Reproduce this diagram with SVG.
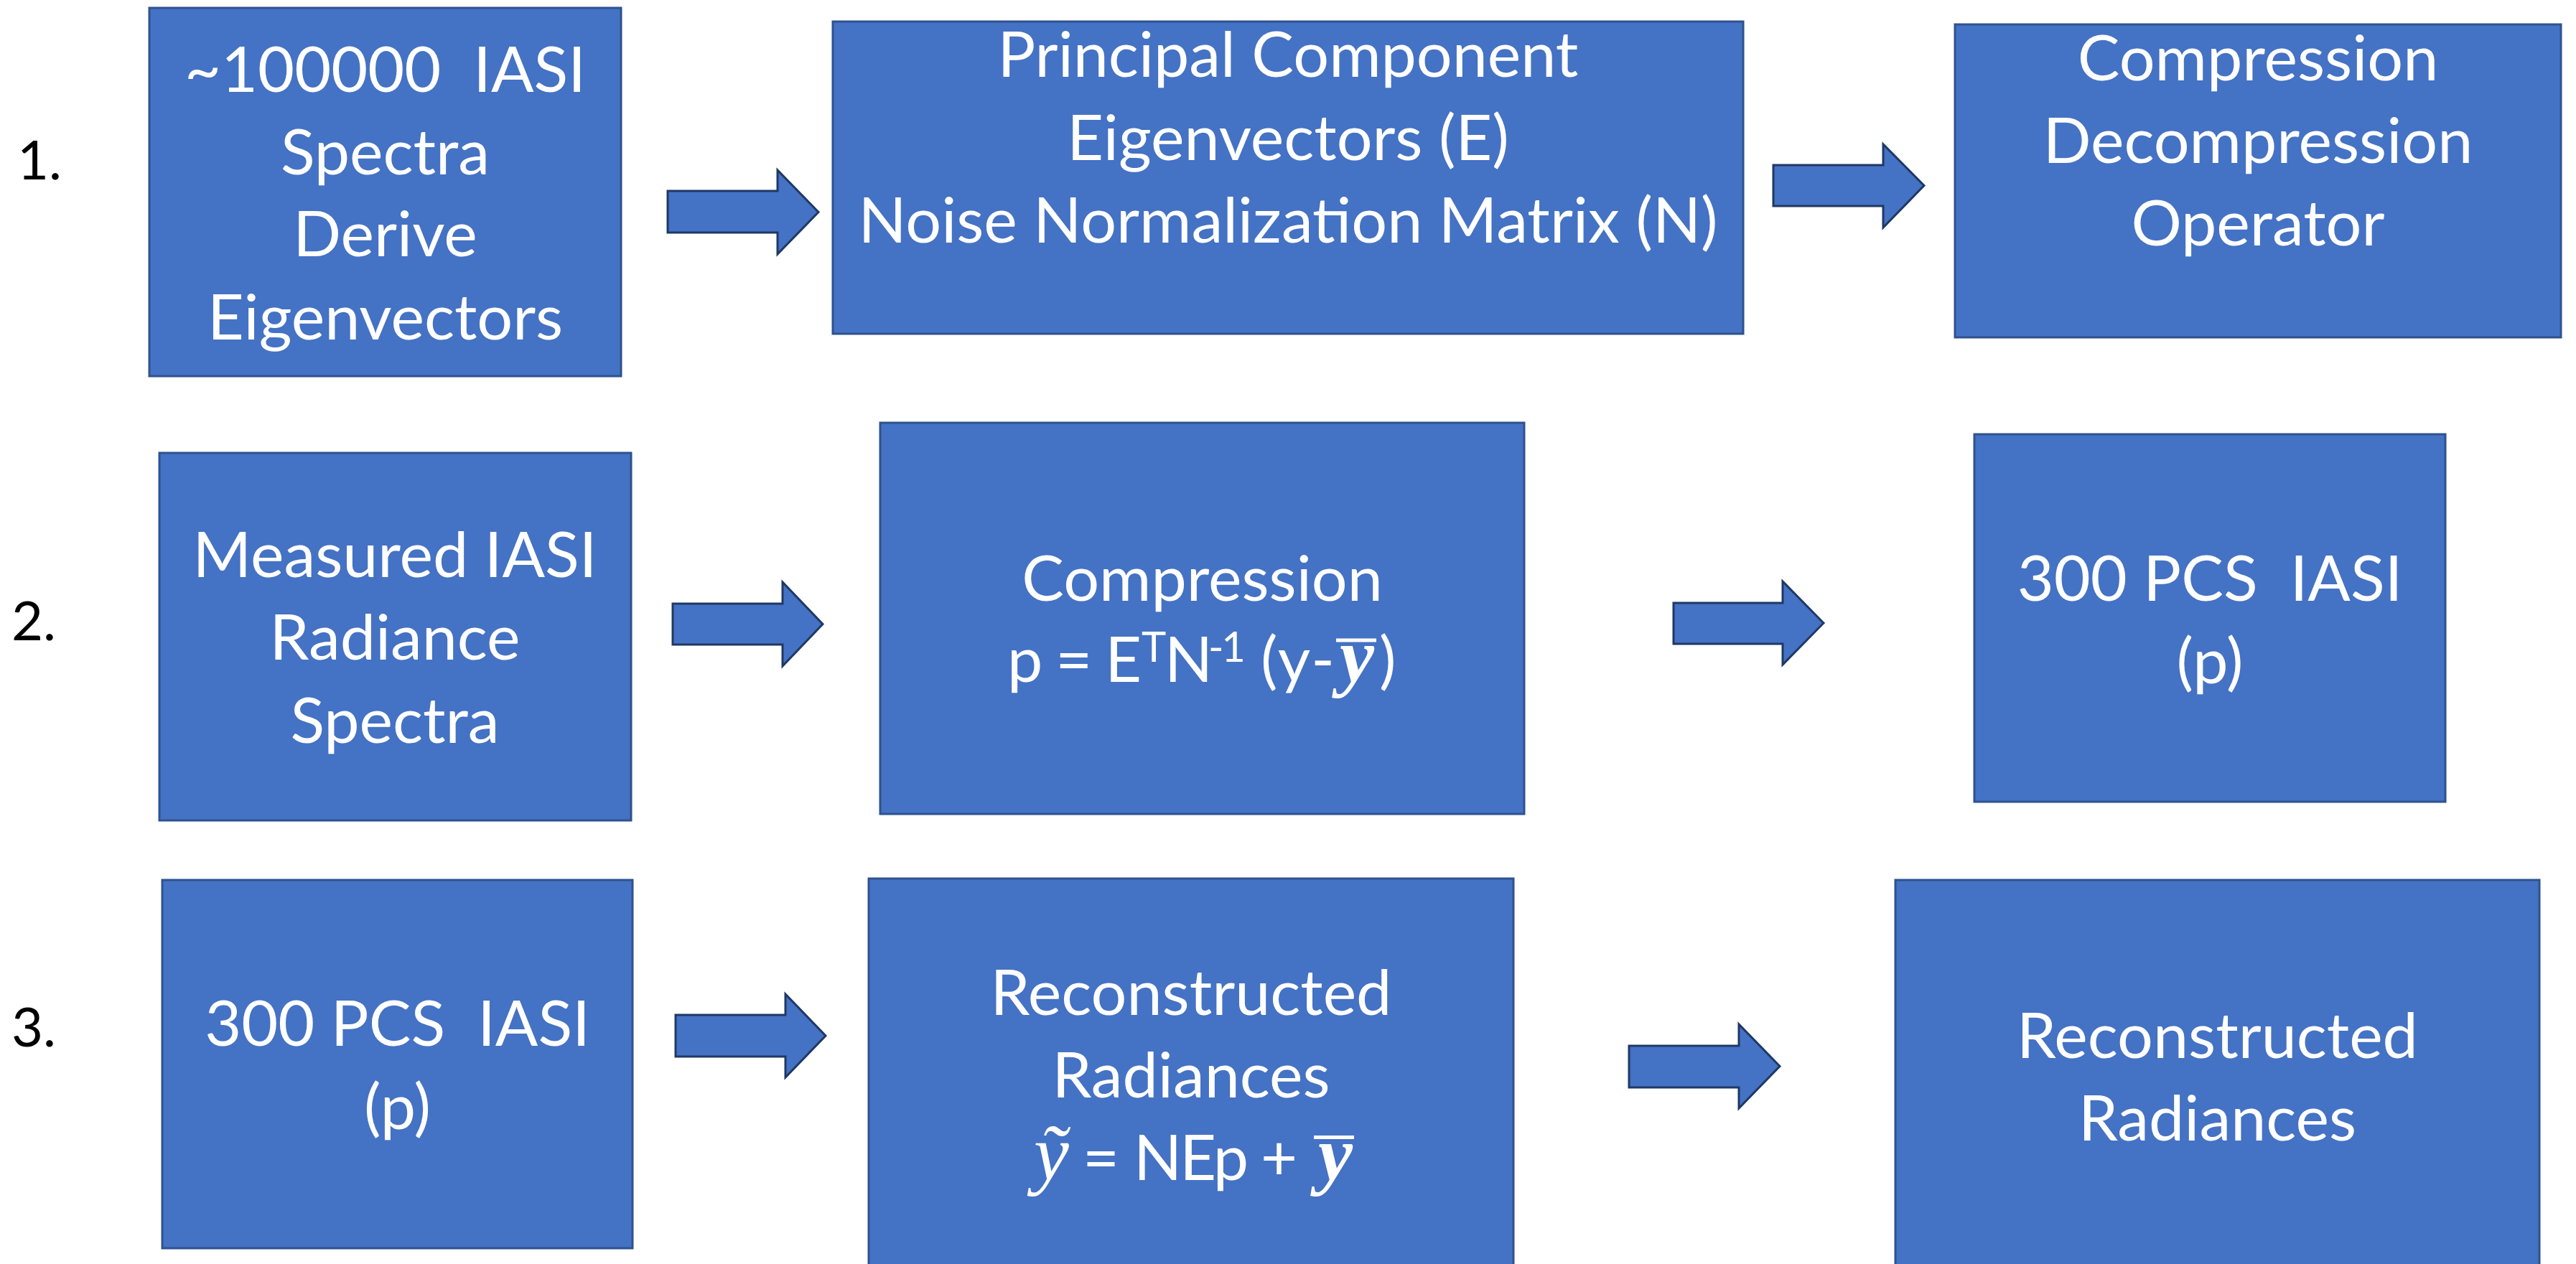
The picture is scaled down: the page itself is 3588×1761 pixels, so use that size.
<svg xmlns="http://www.w3.org/2000/svg" width="3588" height="1761" viewBox="0 0 3588 1761">
<style>
.box{fill:#4472C4;stroke:#2F528F;stroke-width:3}
.arr{fill:#4472C4;stroke:#1F3864;stroke-width:3;stroke-linejoin:miter}
.t{font-family:Lato,"Liberation Sans",sans-serif;font-size:88px;fill:#fff;text-anchor:middle;white-space:pre}
.f{font-family:Lato,"Liberation Sans",sans-serif;font-size:88px;fill:#fff;white-space:pre}
.sup{font-size:58px}
.m{font-family:"Liberation Serif","DejaVu Serif",serif;font-style:italic;font-size:110px;fill:#fff}
.mb{font-family:"Liberation Serif","DejaVu Serif",serif;font-style:italic;font-weight:bold;font-size:108px;fill:#fff}
.lbl{font-family:Lato,"Liberation Sans",sans-serif;font-size:76px;fill:#000}
.bar{fill:#fff}
</style>
<rect width="3588" height="1761" fill="#fff"/>

<g id="labels">
<text class="lbl" x="24" y="250">1.</text>
<text class="lbl" x="16" y="892">2.</text>
<text class="lbl" x="16" y="1458">3.</text>
</g>

<g id="connectors">
<path class="arr" d="M930,266 H1083 V237 L1140,295.5 L1083,354 V324 H930 Z"/>
<path class="arr" d="M2470,230 H2623 V201 L2680,258.5 L2623,317 V287 H2470 Z"/>
<path class="arr" d="M937,841 H1090 V811 L1146,869.5 L1090,928 V898 H937 Z"/>
<path class="arr" d="M2331,840 H2483 V810 L2540,868 L2483,926 V897 H2331 Z"/>
<path class="arr" d="M941,1414 H1094 V1385 L1150,1443 L1094,1501 V1472 H941 Z"/>
<path class="arr" d="M2269,1457 H2422 V1427 L2479,1485.5 L2422,1544 V1515 H2269 Z"/>
</g>

<g id="n1">
<rect class="box" x="208" y="11" width="657" height="513"/>
<text class="t"><tspan x="536.5" y="127.5">~100000  IASI</tspan><tspan x="536.5" y="243">Spectra</tspan><tspan x="536.5" y="357">Derive</tspan><tspan x="536.5" y="473">Eigenvectors</tspan></text>
</g>

<g id="n2">
<rect class="box" x="1160" y="30" width="1268" height="435"/>
<text class="t"><tspan x="1794" y="107">Principal Component</tspan><tspan x="1794" y="223">Eigenvectors (E)</tspan><tspan x="1794" y="338">Noise Normalization Matrix (N)</tspan></text>
</g>

<g id="n3">
<rect class="box" x="2723" y="34" width="844" height="436"/>
<text class="t"><tspan x="3145" y="112">Compression</tspan><tspan x="3145" y="227">Decompression</tspan><tspan x="3145" y="342">Operator</tspan></text>
</g>

<g id="n4">
<rect class="box" x="222" y="631" width="657" height="512"/>
<text class="t"><tspan x="550" y="804">Measured IASI</tspan><tspan x="550" y="919">Radiance</tspan><tspan x="550" y="1034.5">Spectra</tspan></text>
</g>

<g id="n5">
<rect class="box" x="1226" y="589" width="897" height="545"/>
<text class="t" x="1674.5" y="836.5">Compression</text>
<text class="f" x="1403" y="950" textLength="187">p = E</text>
<text class="f sup" x="1590" y="922" textLength="32">T</text>
<text class="f" x="1622" y="950" textLength="60">N</text>
<text class="f sup" x="1683" y="922" textLength="52">-1</text>
<text class="f" x="1756" y="950" textLength="103">(y-</text>
<text class="mb" x="1866" y="950">y</text>
<rect class="bar" x="1861" y="889.5" width="56" height="5"/>
<text class="f" x="1921" y="950">)</text>
</g>

<g id="n6">
<rect class="box" x="2750" y="605" width="656" height="512"/>
<text class="t"><tspan x="3078" y="837">300 PCS  IASI</tspan><tspan x="3078" y="951.5">(p)</tspan></text>
</g>

<g id="n7">
<rect class="box" x="226" y="1226" width="655" height="513"/>
<text class="t"><tspan x="553.5" y="1457">300 PCS  IASI</tspan><tspan x="553.5" y="1572.7">(p)</tspan></text>
</g>

<g id="n8">
<rect class="box" x="1210" y="1224" width="898" height="560"/>
<text class="t"><tspan x="1659" y="1414">Reconstructed</tspan><tspan x="1659" y="1528.6">Radiances</tspan></text>
<text class="m" x="1440" y="1644">ỹ</text>
<text class="f" x="1508" y="1644" textLength="50">=</text>
<text class="f" x="1579" y="1644" textLength="160">NEp</text>
<text class="f" x="1756" y="1644" textLength="52">+</text>
<text class="mb" x="1836" y="1644">y</text>
<rect class="bar" x="1830" y="1582" width="56" height="5"/>
</g>

<g id="n9">
<rect class="box" x="2640" y="1226" width="897" height="560"/>
<text class="t"><tspan x="3088.5" y="1474">Reconstructed</tspan><tspan x="3088.5" y="1588.7">Radiances</tspan></text>
</g>
</svg>
